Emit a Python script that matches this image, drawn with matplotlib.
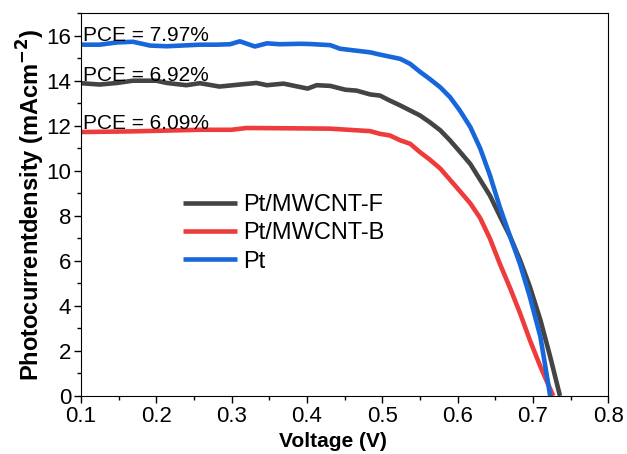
import numpy as np
import matplotlib
matplotlib.use("Agg")
import matplotlib.pyplot as plt
from matplotlib.ticker import MultipleLocator

plt.rcParams["font.family"] = ["Liberation Sans", "DejaVu Sans"]

# J-V curves
V_f = [0.10, 0.125, 0.148, 0.169, 0.20, 0.214, 0.24, 0.258, 0.284, 0.311, 0.333, 0.347,
       0.369, 0.401, 0.413, 0.431, 0.451, 0.466, 0.484, 0.497, 0.51, 0.524, 0.537, 0.55,
       0.563, 0.577, 0.59, 0.603, 0.617, 0.63, 0.643, 0.656, 0.67, 0.683, 0.696, 0.71,
       0.723, 0.736]
J_f = [13.89, 13.83, 13.90, 14.00, 14.00, 13.90, 13.80, 13.89, 13.74, 13.83, 13.90, 13.80,
       13.87, 13.65, 13.80, 13.77, 13.60, 13.56, 13.39, 13.34, 13.12, 12.90, 12.68, 12.46,
       12.16, 11.80, 11.35, 10.85, 10.30, 9.60, 8.90, 8.00, 7.06, 6.03, 4.85, 3.37,
       1.74, 0.0]

V_b = [0.10, 0.169, 0.258, 0.30, 0.32, 0.40, 0.431, 0.484, 0.497, 0.51, 0.524, 0.537,
       0.55, 0.563, 0.577, 0.59, 0.603, 0.617, 0.63, 0.643, 0.656, 0.67, 0.683, 0.696,
       0.71, 0.727]
J_b = [11.72, 11.75, 11.82, 11.82, 11.90, 11.88, 11.87, 11.76, 11.64, 11.57, 11.35, 11.20,
       10.83, 10.50, 10.10, 9.60, 9.10, 8.55, 7.90, 6.99, 5.88, 4.77, 3.67, 2.48,
       1.30, 0.0]

V_pt = [0.10, 0.125, 0.148, 0.169, 0.192, 0.214, 0.258, 0.28, 0.298, 0.311, 0.331, 0.347,
        0.364, 0.391, 0.404, 0.431, 0.444, 0.484, 0.497, 0.524, 0.537, 0.55, 0.563, 0.577,
        0.59, 0.603, 0.617, 0.63, 0.643, 0.656, 0.67, 0.683, 0.696, 0.71, 0.723]
J_pt = [15.60, 15.60, 15.70, 15.73, 15.56, 15.53, 15.60, 15.60, 15.62, 15.75, 15.52, 15.66,
        15.62, 15.64, 15.63, 15.58, 15.42, 15.26, 15.16, 14.97, 14.75, 14.40, 14.08, 13.71,
        13.27, 12.68, 11.94, 11.00, 9.80, 8.40, 7.06, 5.85, 4.40, 2.63, 0.0]

labels = ["Pt/MWCNT-F", "Pt/MWCNT-B", "Pt"]
colors = ["#444444", "#ee3b3b", "#1767db"]
pce_text = ["PCE = 6.92%", "PCE = 6.09%", "PCE = 7.97%"]
pce_y = [14.0, 11.87, 15.78]

fig = plt.figure(figsize=(6.27, 4.54), dpi=100)
ax = fig.add_axes([0.129, 0.128, 0.841, 0.843])

for v, j, lab, c in zip([V_f, V_b, V_pt], [J_f, J_b, J_pt], labels, colors):
    ax.plot(v, j, color=c, lw=3.3, label=lab, solid_capstyle="butt", solid_joinstyle="round")

for t, y in zip(pce_text, pce_y):
    ax.text(0.1025, y, t, fontsize=15, ha="left", va="baseline")

ax.set_xlim(0.1, 0.8)
ax.set_ylim(0, 17)
ax.xaxis.set_major_locator(MultipleLocator(0.1))
ax.xaxis.set_minor_locator(MultipleLocator(0.05))
ax.yaxis.set_major_locator(MultipleLocator(2))
ax.yaxis.set_minor_locator(MultipleLocator(1))
ax.tick_params(which="both", direction="out", top=False, right=False, labelsize=16, pad=2)
ax.tick_params(which="major", length=5, width=1)
ax.tick_params(which="minor", length=3, width=1)
ax.set_xticklabels([f"{x:.1f}" for x in ax.get_xticks()])

ax.set_xlabel("Voltage (V)", fontsize=15, fontweight="bold")
ax.xaxis.set_label_coords(0.478, -0.095)
ax.set_ylabel("Photocurrentdensity (mAcm$^{\\mathbf{-2}}$)", fontsize=17, fontweight="bold")
ax.yaxis.set_label_coords(-0.064, 0.5)

ax.legend(loc="upper left", bbox_to_anchor=(0.292, 0.573), bbox_transform=fig.transFigure,
          frameon=False, fontsize=17, handlelength=2.3, handletextpad=0.25, labelspacing=0.27,
          borderaxespad=0, borderpad=0)

fig.savefig("out.png", dpi=100)
